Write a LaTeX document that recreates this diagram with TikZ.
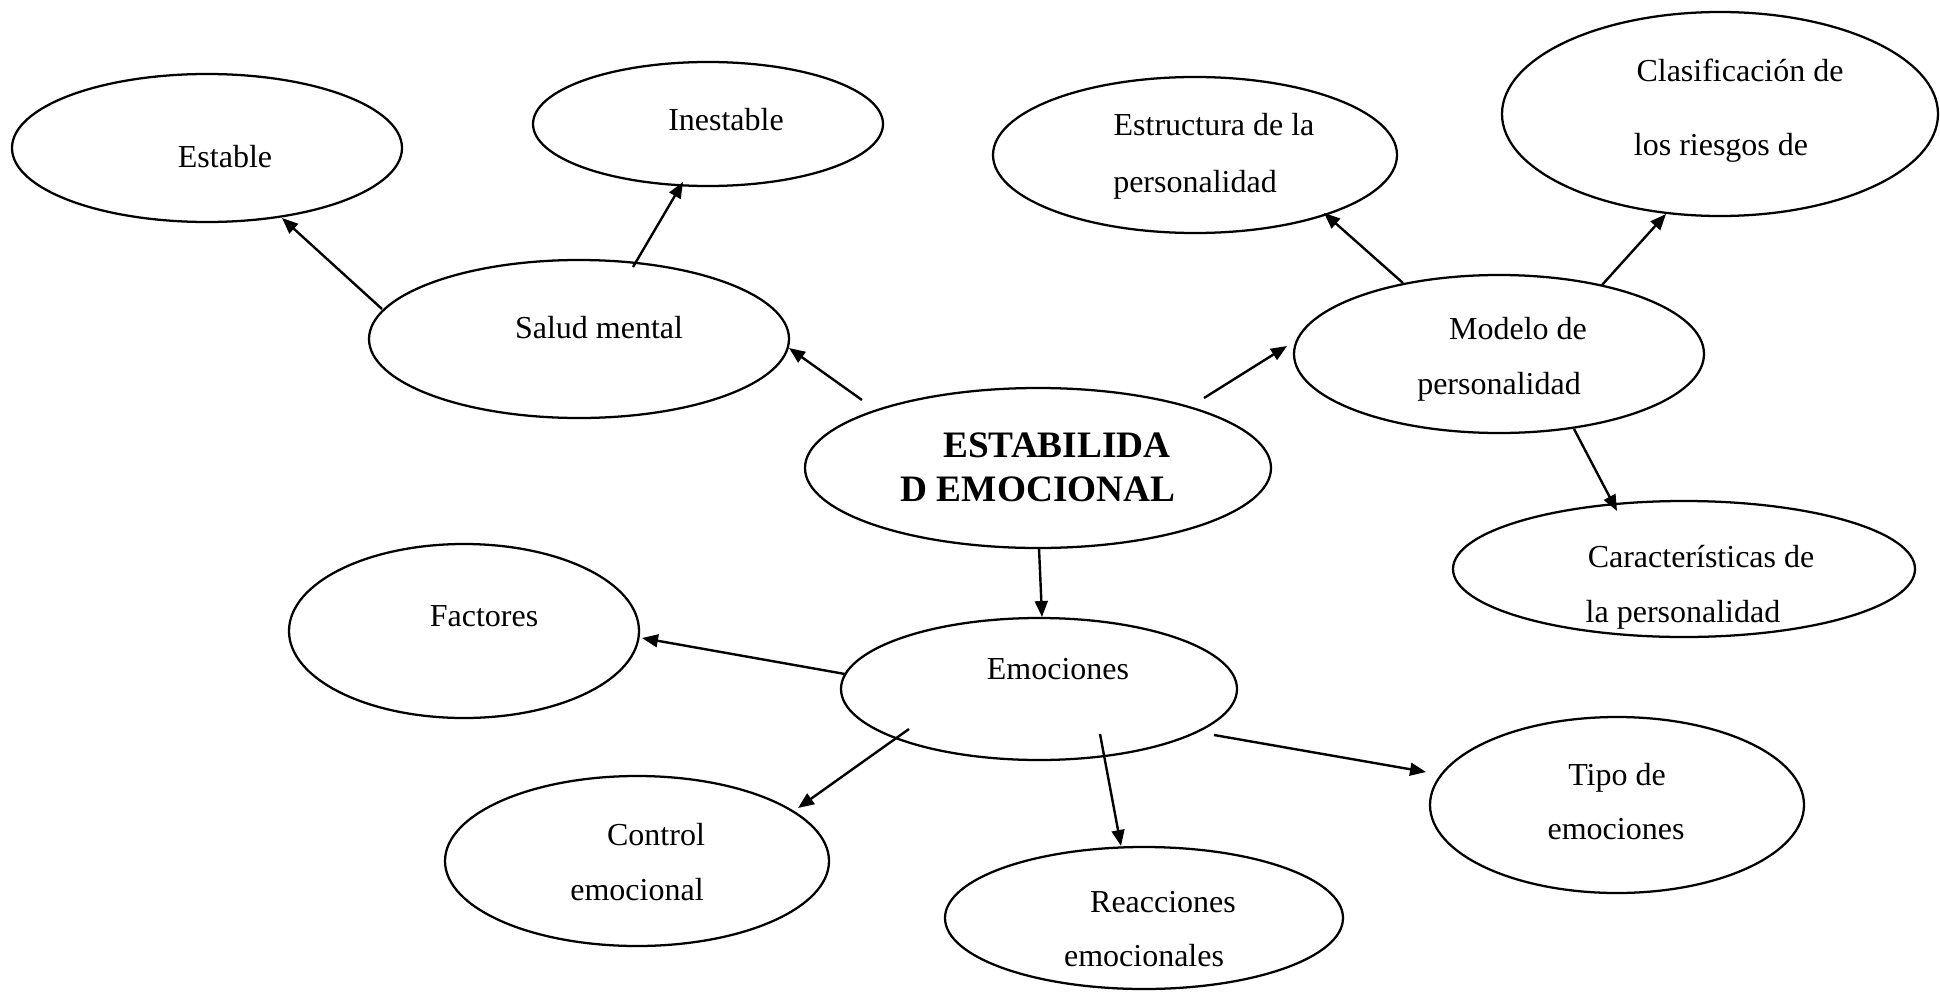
\documentclass[tikz,border=0pt]{standalone}
\usepackage{fontspec}
\setmainfont{Liberation Serif}
\usetikzlibrary{arrows.meta,shapes.geometric}
\begin{document}
\begin{tikzpicture}[x=0.375pt,y=0.375pt,
  bubble/.style={ellipse,draw,line width=0.85pt,inner sep=0pt},
  txt/.style={anchor=base,inner sep=0pt,font=\fontsize{12}{14}\selectfont},
  ttl/.style={anchor=base,inner sep=0pt,font=\fontsize{14}{16}\selectfont\bfseries},
  arr/.style={line width=0.9pt,-{Triangle[length=6pt,width=4.8pt]}}]
\useasboundingbox (0,0) rectangle (1940,-1006);
% ellipses
\node[bubble,minimum width=146.25pt,minimum height=55.5pt] (estable) at (207,-148) {};
\node[bubble,minimum width=131.25pt,minimum height=46.5pt] (inestable) at (708,-124) {};
\node[bubble,minimum width=157.5pt,minimum height=59.25pt] (salud) at (579,-339) {};
\node[bubble,minimum width=151.5pt,minimum height=58.5pt] (estructura) at (1195,-155) {};
\node[bubble,minimum width=163.5pt,minimum height=76.5pt] (clasif) at (1720,-114) {};
\node[bubble,minimum width=153.75pt,minimum height=59.25pt] (modelo) at (1499,-354) {};
\node[bubble,minimum width=174.75pt,minimum height=60pt] (estab) at (1038,-468) {};
\node[bubble,minimum width=173.25pt,minimum height=51pt] (caract) at (1684,-569) {};
\node[bubble,minimum width=131.25pt,minimum height=65.25pt] (factores) at (464,-631) {};
\node[bubble,minimum width=148.5pt,minimum height=53.25pt] (emociones) at (1039,-689) {};
\node[bubble,minimum width=144pt,minimum height=63.75pt] (control) at (637,-861) {};
\node[bubble,minimum width=149.25pt,minimum height=53.25pt] (reacc) at (1144,-918) {};
\node[bubble,minimum width=140.25pt,minimum height=66pt] (tipo) at (1617,-805) {};
% texts
\node[txt] (t-estable) at (225,-168) {Estable};
\node[txt] (t-inestable) at (726,-131) {Inestable};
\node[txt] (t-salud) at (599,-338) {Salud mental};
\node[txt] (t-estr1) at (1214,-136) {Estructura de la};
\node[txt] (t-estr2) at (1195,-192) {personalidad};
\node[txt] (t-clas1) at (1740,-82) {Clasificación de};
\node[txt] (t-clas2) at (1721,-156) {los riesgos de};
\node[txt] (t-mod1) at (1518,-339) {Modelo de};
\node[txt] (t-mod2) at (1499,-394) {personalidad};
\node[ttl] (t-est1) at (1057,-457) {ESTABILIDA};
\node[ttl] (t-est2) at (1038,-501) {D EMOCIONAL};
\node[txt] (t-car1) at (1701,-567) {Características de};
\node[txt] (t-car2) at (1683,-622) {la personalidad};
\node[txt] (t-fac) at (484,-626) {Factores};
\node[txt] (t-emo) at (1058,-679) {Emociones};
\node[txt] (t-con1) at (656,-845) {Control};
\node[txt] (t-con2) at (637,-900) {emocional};
\node[txt] (t-rea1) at (1163,-912) {Reacciones};
\node[txt] (t-rea2) at (1144,-966) {emocionales};
\node[txt] (t-tip1) at (1617,-785) {Tipo de};
\node[txt] (t-tip2) at (1616,-839) {emociones};
% connectors
\draw[arr] ([shift={(-197,30)}]salud.center) -- ([shift={(75,-70)}]estable.center);
\draw[arr] ([shift={(54,72)}]salud.center) -- ([shift={(-25,-58)}]inestable.center);
\draw[arr] ([shift={(-176,68)}]estab.center) -- ([shift={(210,-9)}]salud.center);
\draw[arr] ([shift={(166,70)}]estab.center) -- ([shift={(-212,8)}]modelo.center);
\draw[arr] ([shift={(-96,71)}]modelo.center) -- ([shift={(129,-58)}]estructura.center);
\draw[arr] ([shift={(103,69)}]modelo.center) -- ([shift={(-54,-100)}]clasif.center);
\draw[arr] ([shift={(75,-75)}]modelo.center) -- ([shift={(-67,58)}]caract.center);
\draw[arr] ([shift={(1,-80)}]estab.center) -- ([shift={(3,72)}]emociones.center);
\draw[arr] ([shift={(-194,15)}]emociones.center) -- ([shift={(178,-7)}]factores.center);
\draw[arr] ([shift={(-130,-40)}]emociones.center) -- ([shift={(161,53)}]control.center);
\draw[arr] ([shift={(61,-45)}]emociones.center) -- ([shift={(-23,72)}]reacc.center);
\draw[arr] ([shift={(175,-46)}]emociones.center) -- ([shift={(-191,33)}]tipo.center);
\end{tikzpicture}
\end{document}
